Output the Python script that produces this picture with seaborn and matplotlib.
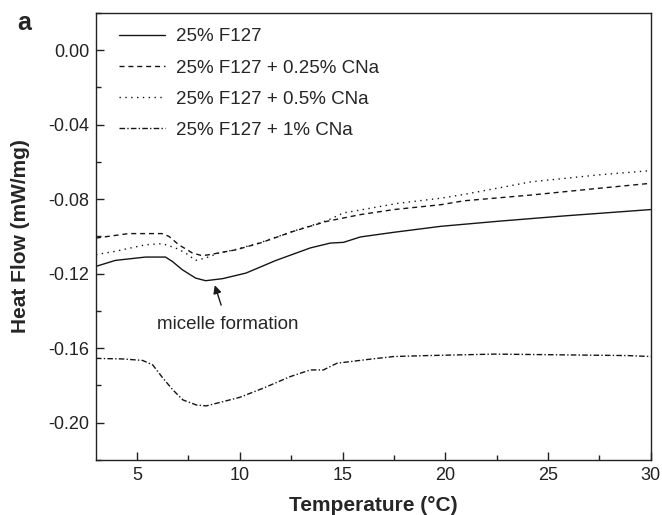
import matplotlib
matplotlib.use("Agg")
import matplotlib.pyplot as plt
from matplotlib.ticker import MultipleLocator, FuncFormatter
import seaborn as sns
import pandas as pd

# данные (температура °C, тепловой поток мВт/мг)
t_f127 = [3, 3.94, 5.41, 6.38, 6.71, 7.2, 7.85, 8.34, 9.16, 10.3, 11.76, 13.43, 14.4, 15.05,
          15.87, 17.5, 19.78, 22.55, 25.8, 30]
y_f127 = [-0.1161, -0.1129, -0.1111, -0.1111, -0.1134, -0.1179, -0.1224, -0.1238, -0.1227, -0.1197,
          -0.1129, -0.1062, -0.1036, -0.1032, -0.1003, -0.0978, -0.0946, -0.0919, -0.089, -0.0856]

t_025 = [3, 4.59, 6.22, 6.55, 7.03, 7.69, 8.18, 8.67, 9.81, 10.98, 12.6, 14.24, 15.87, 17.5,
         19.78, 20.9, 24.18, 27.45, 30]
y_025 = [-0.1009, -0.0985, -0.0985, -0.1, -0.1045, -0.1089, -0.1104, -0.1095, -0.1072, -0.1036,
         -0.0973, -0.0919, -0.0883, -0.0856, -0.083, -0.0809, -0.0778, -0.0742, -0.0715]

t_05 = [3, 3.94, 5.41, 6.22, 6.87, 7.36, 7.85, 8.34, 8.99, 9.81, 10.98, 12.6, 14.24, 15.05,
        16.7, 17.66, 19.78, 20.9, 24.18, 27.45, 30]
y_05 = [-0.1098, -0.108, -0.1045, -0.1039, -0.1062, -0.1089, -0.1129, -0.1116, -0.1089, -0.107,
        -0.1034, -0.0972, -0.0915, -0.0874, -0.0842, -0.0823, -0.0795, -0.0775, -0.0707, -0.067, -0.0647]

t_1 = [3, 4.3, 5.27, 5.76, 6.25, 6.74, 7.23, 7.88, 8.37, 9.19, 10.0, 11.14, 12.45, 13.43, 14.07,
       14.73, 16.36, 17.5, 19.1, 22.4, 25.7, 28.9, 30]
y_1 = [-0.1655, -0.1658, -0.1666, -0.169, -0.176, -0.1824, -0.1878, -0.1905, -0.191, -0.1887,
       -0.1864, -0.1815, -0.1753, -0.1717, -0.1717, -0.1681, -0.1659, -0.1645, -0.164, -0.1632,
       -0.1636, -0.164, -0.1645]

labels = ["25% F127", "25% F127 + 0.25% CNa", "25% F127 + 0.5% CNa", "25% F127 + 1% CNa"]
styles = ["-", (0, (3.6, 2.8)), (0, (1, 3.2)), (0, (4, 1.6, 1, 1.6))]

sns.set_style("ticks")
plt.rcParams['font.family'] = ['Liberation Sans', 'DejaVu Sans']

fig = plt.figure(figsize=(6.62, 5.15), dpi=100)
ax = fig.add_axes([0.145, 0.107, 0.838, 0.868])

series = [(t_f127, y_f127), (t_025, y_025), (t_05, y_05), (t_1, y_1)]
for (t, y), lab, ls in zip(series, labels, styles):
    df = pd.DataFrame({"T": t, "HF": y})
    sns.lineplot(data=df, x="T", y="HF", ax=ax, color="#151515", lw=1.0,
                 linestyle=ls, label=lab)

ax.set_xlim(3, 30)
ax.set_ylim(-0.22, 0.02)
ax.xaxis.set_major_locator(MultipleLocator(5))
ax.xaxis.set_minor_locator(MultipleLocator(2.5))
ax.yaxis.set_major_locator(MultipleLocator(0.04))
ax.yaxis.set_minor_locator(MultipleLocator(0.02))
ax.yaxis.set_major_formatter(FuncFormatter(lambda v, p: f"{0.0 if abs(v) < 1e-9 else v:.2f}"))
ax.tick_params(which="both", direction="in", top=False, right=False, labelsize=13, colors="#222222")
ax.tick_params(which="major", length=6, width=1, pad=5)
ax.tick_params(which="minor", length=3.5, width=1)
for sp in ax.spines.values():
    sp.set_linewidth(1.0)
    sp.set_color("#222222")

ax.set_xlabel("Temperature (°C)", fontsize=15, fontweight="bold", labelpad=9)
ax.set_ylabel("Heat Flow (mW/mg)", fontsize=15, fontweight="bold", labelpad=13)

ax.legend(loc="upper left", frameon=False, fontsize=13.5, handlelength=2.45,
          handletextpad=0.55, labelspacing=0.75, bbox_to_anchor=(0.02, 0.993), borderaxespad=0.25)

ax.annotate("micelle formation", xy=(8.78, -0.1262), xytext=(9.4, -0.1475),
            ha="center", va="center", fontsize=13.5,
            arrowprops=dict(arrowstyle="-|>", color="#1a1a1a", lw=1.0, shrinkA=6, shrinkB=0,
                            mutation_scale=12))

fig.text(0.026, 0.942, "a", fontsize=18, fontweight="bold")

fig.savefig("out.png", dpi=100)
